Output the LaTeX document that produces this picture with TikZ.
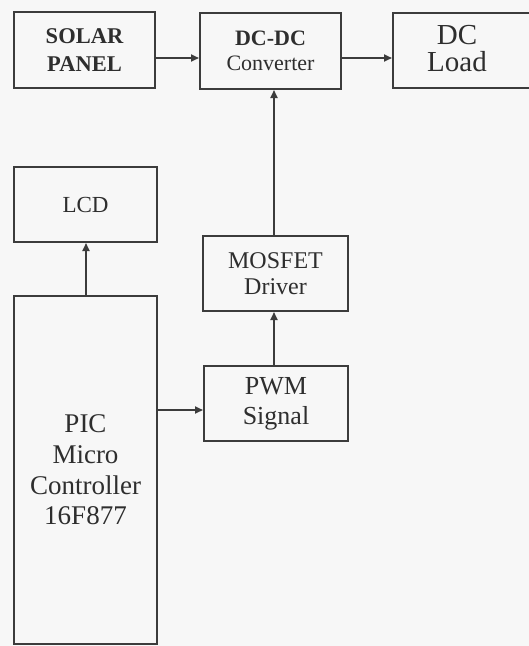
\documentclass[tikz,border=0pt]{standalone}
\usepackage{fontspec}
\setmainfont{Liberation Serif}
\usetikzlibrary{arrows.meta}
\definecolor{linec}{HTML}{3C3C3C}
\definecolor{textc}{HTML}{2E2E2E}
\definecolor{bgc}{HTML}{F7F7F7}
\tikzset{
  box/.style={draw=linec, line width=2pt, inner sep=0pt, align=center, text=textc},
  txt/.style={inner sep=0pt, align=center, text=textc},
  conn/.style={draw=linec, line width=1.8pt, -{Triangle[length=8pt,width=7pt]}},
}
\newcommand{\fs}[2]{\fontsize{#1}{#2}\selectfont}
\begin{document}
\begin{tikzpicture}[x=1pt,y=-1pt]
\fill[bgc] (0,0) rectangle (529,646);
\useasboundingbox (0,0) rectangle (529,646);
\clip (0,0) rectangle (529,646);
% top row
\node[box, minimum width=141, minimum height=76, font={\fs{22.5}{28}\bfseries}] (solar) at (84.5,50)
  {SOLAR\\PANEL};
\node[box, minimum width=141, minimum height=76, font={\fs{22}{25}}] (dcdc) at (270.5,51)
  {\textbf{DC-DC}\\Converter};
\node[box, minimum width=160, minimum height=75, anchor=west] (load) at (392,50.5) {};
\node[txt, font={\fs{29}{27}}] (loadtxt) at (457,49) {DC\\Load};
% left column
\node[box, minimum width=143, minimum height=75, font={\fs{23}{27}}] (lcd) at (85.5,204.5)
  {LCD};
\node[box, minimum width=143, minimum height=348, font={\fs{27}{30.7}}] (pic) at (85.5,470)
  {PIC\\Micro\\Controller\\16F877};
% middle column
\node[box, minimum width=145, minimum height=75, font={\fs{24}{26}}] (mosfet) at (275.5,273.5)
  {MOSFET\\Driver};
\node[box, minimum width=144, minimum height=75, font={\fs{26}{30}}] (pwm) at (276,403.5)
  {PWM\\Signal};
% connectors
\draw[conn] (solar.east |- 0,58) -- (dcdc.west |- 0,58);
\draw[conn] (dcdc.east |- 0,58) -- (load.west |- 0,58);
\draw[conn] (pic.north -| 86,0) -- (lcd.south -| 86,0);
\draw[conn] (pic.east |- 0,410) -- (pwm.west |- 0,410);
\draw[conn] (pwm.north -| 274,0) -- (mosfet.south -| 274,0);
\draw[conn] (mosfet.north -| 274,0) -- (dcdc.south -| 274,0);
\end{tikzpicture}
\end{document}
